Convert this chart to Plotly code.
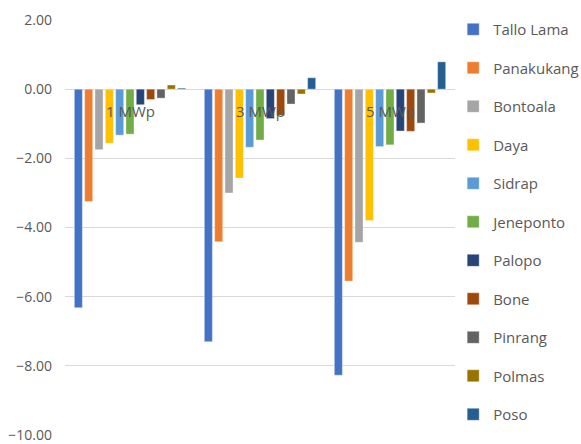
import plotly.graph_objects as go

# Capacity groups on the category axis
categories = ["1 MWp", "3 MWp", "5 MWp"]

# One series per location, one value per capacity group
tallo_lama = [-6.32, -7.30, -8.27]
panakukang = [-3.25, -4.41, -5.55]
bontoala = [-1.75, -3.00, -4.43]
daya = [-1.56, -2.57, -3.80]
sidrap = [-1.33, -1.68, -1.66]
jeneponto = [-1.30, -1.47, -1.61]
palopo = [-0.45, -0.85, -1.21]
bone = [-0.30, -0.76, -1.22]
pinrang = [-0.26, -0.43, -0.98]
polmas = [0.12, -0.14, -0.11]
poso = [0.03, 0.33, 0.79]

series = [
    ("Tallo Lama", tallo_lama, "#4472C4"),
    ("Panakukang", panakukang, "#ED7D31"),
    ("Bontoala", bontoala, "#A5A5A5"),
    ("Daya", daya, "#FFC000"),
    ("Sidrap", sidrap, "#5B9BD5"),
    ("Jeneponto", jeneponto, "#70AD47"),
    ("Palopo", palopo, "#264478"),
    ("Bone", bone, "#9E480E"),
    ("Pinrang", pinrang, "#636363"),
    ("Polmas", polmas, "#997300"),
    ("Poso", poso, "#255E91"),
]

FONT = "Open Sans, Liberation Sans, sans-serif"

fig = go.Figure()
for i, (name, vals, color) in enumerate(series):
    fig.add_trace(go.Bar(
        name=name, x=categories, y=vals,
        marker=dict(color=color, line=dict(color="rgba(255,255,255,0.6)", width=0.6)),
        legendgroup=f"g{i}",
    ))

# Category labels sit just below the zero line, as in an axis-crossing layout
for c in categories:
    fig.add_annotation(
        x=c, y=0, xref="x", yref="y", text=c, showarrow=False,
        yanchor="middle", yshift=-22,
        font=dict(family=FONT, size=15, color="#595959"),
    )

fig.update_layout(
    width=581, height=444,
    margin=dict(l=65, r=126, t=20, b=9, autoexpand=False),
    paper_bgcolor="white", plot_bgcolor="white",
    barmode="group", bargap=0.126, bargroupgap=0.22,
    font=dict(family=FONT, color="#595959"),
    showlegend=True,
    legend=dict(
        xref="container", yref="container", x=0.780, y=0.9706,
        xanchor="left", yanchor="top",
        font=dict(size=15, color="#595959"),
        tracegroupgap=16.0, itemwidth=30, maxheight=1.0,
        bgcolor="rgba(0,0,0,0)",
    ),
    xaxis=dict(showticklabels=False, showgrid=False, zeroline=False, showline=False, ticks=""),
    yaxis=dict(
        range=[-10, 2], dtick=2, tickformat=".2f",
        showgrid=True, gridcolor="#D9D9D9", gridwidth=1,
        zeroline=True, zerolinecolor="#D9D9D9", zerolinewidth=1,
        showline=False, ticks="", ticklabelstandoff=12,
        tickfont=dict(size=14, color="#595959"),
    ),
)

fig.write_html("out.html")
